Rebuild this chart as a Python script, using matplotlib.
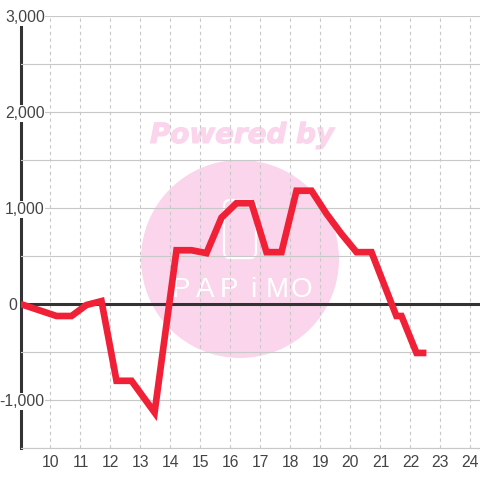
import matplotlib
matplotlib.use('Agg')
import matplotlib.pyplot as plt
import matplotlib.patheffects as pe
from matplotlib.patches import Circle, FancyBboxPatch
from matplotlib.transforms import ScaledTranslation

# half hour readings
hours = [9.0, 10.2, 10.7, 11.2, 11.7, 12.2, 12.7, 13.47, 14.2, 14.7, 15.2, 15.7, 16.2, 16.7,
         17.2, 17.7, 18.2, 18.7, 19.2, 19.7, 20.2, 20.7, 21.53, 21.7, 22.2, 22.53]
values = [0, -125, -125, -10, 30, -800, -800, -1130, 560, 560, 530, 900, 1050, 1050,
          540, 540, 1180, 1180, 940, 730, 540, 540, -125, -125, -510, -510]

x_ticks = list(range(10, 25))
y_ticks = [-1000, 0, 1000, 2000, 3000]
y_minor = [-1500, -500, 500, 1500, 2500]
logo_letters = ['P', 'A', 'P', 'i', 'M', 'O']

plt.rcParams['font.family'] = 'Liberation Sans'

fig = plt.figure(figsize=(4.8, 4.8), dpi=100)

# watermark sits on its own axes under the chart, in pixel coordinates
bg = fig.add_axes([0, 0, 1, 1], zorder=0)
bg.set_xlim(0, 480)
bg.set_ylim(480, 0)
bg.axis('off')
pink = '#fbd5ec'
bg.add_patch(Circle((240, 259), 99, fc=pink, ec='none'))
bg.add_patch(FancyBboxPatch((224, 200), 32, 58, boxstyle='round,pad=0,rounding_size=6',
                            fc='none', ec='white', lw=1.6))
bg.text(242, 135, 'Powered by', color=pink, fontsize=20, fontweight='bold', style='italic',
        family='DejaVu Sans', ha='center', va='center',
        path_effects=[pe.withStroke(linewidth=0.8, foreground=pink)])
for i, letter in enumerate(logo_letters):
    bg.text(181 + i * 24, 290, letter, color='white', fontsize=20, ha='center', va='center')

ax = fig.add_axes([20.5 / 480, 32 / 480, 459.5 / 480, 432 / 480], zorder=1)
ax.patch.set_alpha(0)
ax.set_xlim(9, 24.317)
ax.set_ylim(-1500, 3000)

grid_col = '#c8c8c8'
ax.set_yticks(y_ticks)
ax.set_yticklabels([f'{v:,}' for v in y_ticks])
ax.set_yticks(y_minor, minor=True)
ax.set_xticks(x_ticks)
ax.grid(axis='y', which='both', color=grid_col, lw=0.8)
ax.grid(axis='x', color=grid_col, lw=0.8, ls=(0, (3, 3)))
ax.set_axisbelow(False)
ax.tick_params(which='both', length=0)
ax.tick_params(axis='both', labelsize=11.3, labelcolor='#444444')
ax.tick_params(axis='x', pad=5)
ax.tick_params(axis='y', pad=-17.5)
for v, lab in zip(y_ticks, ax.get_yticklabels()):
    lab.set_clip_on(False)
    lab.set_bbox(dict(fc='white', ec='none', pad=0.5))
    if v == 0:
        # the zero label stays left of the axis
        lab.set_bbox(None)
        lab.set_transform(lab.get_transform() + ScaledTranslation(-0.28, 0, fig.dpi_scale_trans))

for side in ['top', 'right']:
    ax.spines[side].set_visible(False)
ax.spines['bottom'].set_color(grid_col)
ax.spines['bottom'].set_linewidth(0.8)
ax.spines['left'].set_color('#333333')
ax.spines['left'].set_linewidth(2.2)
ax.spines['left'].set_zorder(2)
ax.axhline(0, color='#333333', lw=2.2, zorder=2.7)

ax.plot(hours, values, color='#f02037', lw=4.8, solid_joinstyle='miter', solid_capstyle='butt', zorder=3)

fig.savefig('out.png', dpi=100)
